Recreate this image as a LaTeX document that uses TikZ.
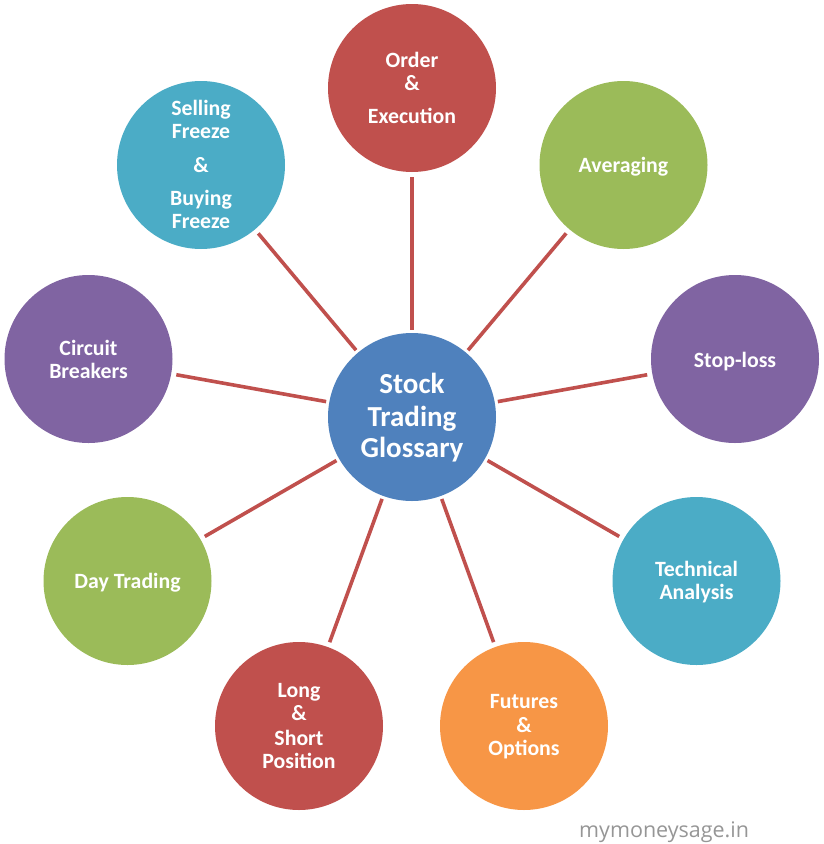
\documentclass[tikz,border=0pt]{standalone}
\usepackage{fontspec}
\setmainfont{Carlito}
\newfontfamily\wmfont{Open Sans}
\definecolor{cRed}{HTML}{C0504D}
\definecolor{cGreen}{HTML}{9BBB59}
\definecolor{cPurple}{HTML}{8064A2}
\definecolor{cTeal}{HTML}{4BACC6}
\definecolor{cOrange}{HTML}{F79646}
\definecolor{cBlue}{HTML}{4F81BD}
\definecolor{cLine}{HTML}{C0504D}
\tikzset{
  bub/.style={circle, minimum size=168pt, inner sep=0pt, draw=none},
  lbl/.style={anchor=base, text=white, font=\fontsize{21.8}{24}\selectfont\bfseries, inner sep=0pt},
  clbl/.style={anchor=base, text=white, font=\fontsize{29}{32}\selectfont\bfseries, inner sep=0pt},
  conn/.style={draw=cLine, line width=3.6pt, shorten <=3pt, shorten >=5pt}
}
\begin{document}
\begin{tikzpicture}[x=1pt,y=-1pt]
\useasboundingbox (0,0) rectangle (824,844);
% circles
\node[bub, fill=cBlue]   (c)   at (412,417) {};
\node[bub, fill=cRed]    (ord) at (412,88) {};
\node[bub, fill=cGreen]  (avg) at (623.5,165) {};
\node[bub, fill=cPurple] (stp) at (735,359) {};
\node[bub, fill=cTeal]   (tec) at (696.5,581) {};
\node[bub, fill=cOrange] (fut) at (524,726) {};
\node[bub, fill=cRed]    (lng) at (299,726) {};
\node[bub, fill=cGreen]  (day) at (127.5,581) {};
\node[bub, fill=cPurple] (cir) at (88.5,359) {};
\node[bub, fill=cTeal]   (sel) at (201,165) {};
% connectors
\foreach \n in {ord,avg,stp,tec,fut,lng,day,cir,sel}
  \draw[conn] (c) -- (\n);
% centre text
\node[clbl] (cT1) at (412,393) {Stock};
\node[clbl] (cT2) at (412,426) {Trading};
\node[clbl] (cT3) at (412,457) {Glossary};
% outer texts
\node[lbl] (oT1) at (412,67) {Order};
\node[lbl] (oT2) at (412,90) {\&};
\node[lbl] (oT3) at (412,123) {Execution};
\node[lbl] (aT1) at (623.5,172) {Averaging};
\node[lbl] (sT1) at (735,367) {Stop-loss};
\node[lbl] (tT1) at (696.5,576) {Technical};
\node[lbl] (tT2) at (696.5,599) {Analysis};
\node[lbl] (fT1) at (524,708) {Futures};
\node[lbl] (fT2) at (524,732) {\&};
\node[lbl] (fT3) at (524,755) {Options};
\node[lbl] (lT1) at (299,697) {Long};
\node[lbl] (lT2) at (299,720) {\&};
\node[lbl] (lT3) at (299,745) {Short};
\node[lbl] (lT4) at (299,768) {Position};
\node[lbl] (dT1) at (127.5,588) {Day Trading};
\node[lbl] (bT1) at (88.5,355) {Circuit};
\node[lbl] (bT2) at (88.5,378) {Breakers};
\node[lbl] (eT1) at (201,115) {Selling};
\node[lbl] (eT2) at (201,138) {Freeze};
\node[lbl] (eT3) at (201,172) {\&};
\node[lbl] (eT4) at (201,205) {Buying};
\node[lbl] (eT5) at (201,228) {Freeze};
% watermark
\node[anchor=base west, inner sep=0pt, text={rgb,255:red,150;green,150;blue,150}, font=\wmfont\fontsize{21.5}{24}\selectfont] (wm) at (579,837) {mymoneysage.in};
\end{tikzpicture}
\end{document}
